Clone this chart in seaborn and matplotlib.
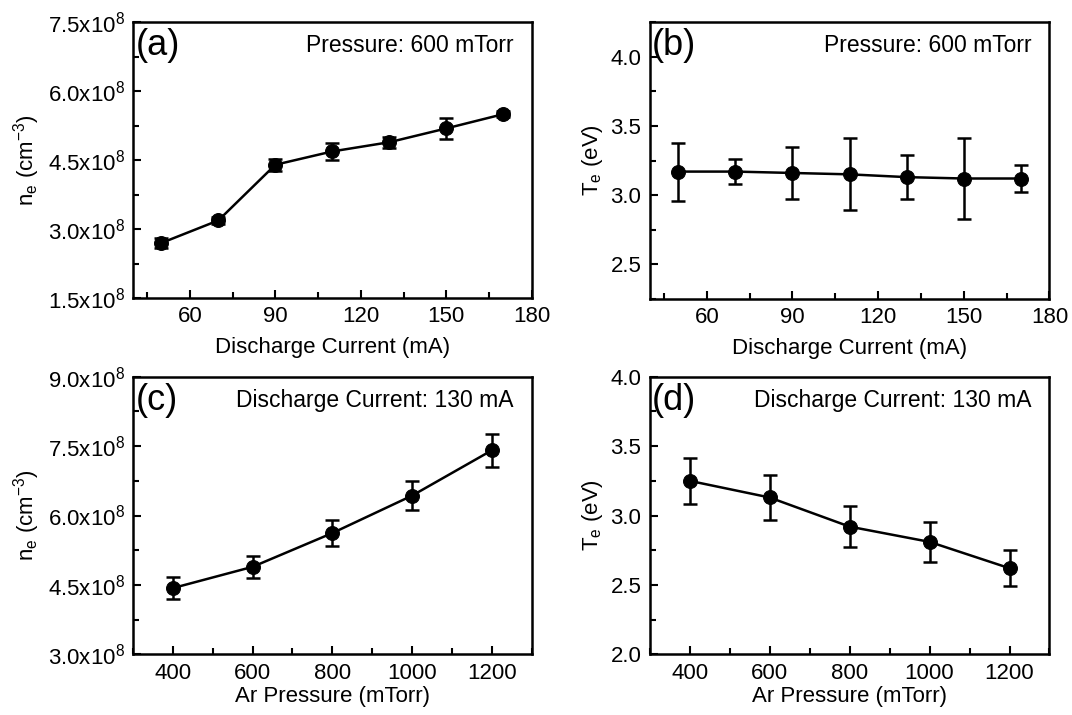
import numpy as np
import pandas as pd
import seaborn as sns
import matplotlib.pyplot as plt
from matplotlib.ticker import MultipleLocator, FuncFormatter

# current scan at 600 mTorr
current = [50, 70, 90, 110, 130, 150, 170]
ne_current = [2.70e8, 3.19e8, 4.40e8, 4.69e8, 4.89e8, 5.19e8, 5.50e8]
ne_current_err = [0.10e8, 0.07e8, 0.13e8, 0.19e8, 0.12e8, 0.23e8, 0.06e8]
te_current = [3.17, 3.17, 3.16, 3.15, 3.13, 3.12, 3.12]
te_current_err = [0.21, 0.09, 0.19, 0.26, 0.16, 0.29, 0.095]

# pressure scan at 130 mA
pressure = [400, 600, 800, 1000, 1200]
ne_pressure = [4.43e8, 4.89e8, 5.62e8, 6.43e8, 7.41e8]
ne_pressure_err = [0.23e8, 0.24e8, 0.28e8, 0.32e8, 0.36e8]
te_pressure = [3.25, 3.13, 2.92, 2.81, 2.62]
te_pressure_err = [0.165, 0.16, 0.15, 0.145, 0.13]

sns.set_style("ticks")
plt.rcParams['font.family'] = ['Liberation Sans', 'DejaVu Sans']
plt.rcParams['mathtext.fontset'] = 'custom'
plt.rcParams['mathtext.rm'] = 'Liberation Sans'
plt.rcParams['mathtext.it'] = 'Liberation Sans:italic'
for k in ['text.color', 'axes.labelcolor', 'xtick.color', 'ytick.color', 'axes.edgecolor']:
    plt.rcParams[k] = 'black'

fig = plt.figure(figsize=(10.72, 7.15), dpi=100)
pos = {'a': [0.124, 0.583, 0.372, 0.386],
       'b': [0.606, 0.582, 0.373, 0.387],
       'c': [0.124, 0.085, 0.372, 0.388],
       'd': [0.606, 0.085, 0.373, 0.388]}

def sci(v, p):
    return '%.1fx10$\\mathregular{^{8}}$' % (v / 1e8)

ne_label = 'n$\\mathregular{_e}$ (cm$\\mathregular{^{-3}}$)'
te_label = 'T$\\mathregular{_e}$ (eV)'

panels = [
    ('a', current, ne_current, ne_current_err, 'Discharge Current (mA)', ne_label,
     'Pressure: 600 mTorr', (40, 180), 30, (1.5e8, 7.5e8), 1.5e8),
    ('b', current, te_current, te_current_err, 'Discharge Current (mA)', te_label,
     'Pressure: 600 mTorr', (40, 180), 30, (2.25, 4.25), 0.5),
    ('c', pressure, ne_pressure, ne_pressure_err, 'Ar Pressure (mTorr)', ne_label,
     'Discharge Current: 130 mA', (300, 1300), 200, (3e8, 9e8), 1.5e8),
    ('d', pressure, te_pressure, te_pressure_err, 'Ar Pressure (mTorr)', te_label,
     'Discharge Current: 130 mA', (300, 1300), 200, (2.0, 4.0), 0.5),
]

for tag, x, y, err, xlab, ylab, note, xlim, xstep, ylim, ystep in panels:
    ax = fig.add_axes(pos[tag])
    df = pd.DataFrame({'x': x, 'y': y})
    ax.errorbar(x, y, yerr=err, fmt='none', ecolor='black', elinewidth=1.8,
                capsize=5, capthick=1.8, zorder=2)
    sns.lineplot(data=df, x='x', y='y', ax=ax, color='black', linewidth=1.8,
                 marker='o', markersize=10, markeredgecolor='black', zorder=3)
    ax.set_xlim(xlim)
    ax.set_ylim(ylim)
    ax.xaxis.set_major_locator(MultipleLocator(xstep))
    ax.xaxis.set_minor_locator(MultipleLocator(xstep / 2))
    ax.yaxis.set_major_locator(MultipleLocator(ystep))
    ax.yaxis.set_minor_locator(MultipleLocator(ystep / 2))
    if tag in ('a', 'c'):
        ax.yaxis.set_major_formatter(FuncFormatter(sci))
    else:
        ax.yaxis.set_major_formatter(FuncFormatter(lambda v, p: '%.1f' % v))
    ax.tick_params(which='both', direction='in', labelsize=16, width=1.5)
    ax.tick_params(which='major', length=6, pad=6)
    ax.tick_params(which='minor', length=4)
    for s in ax.spines.values():
        s.set_linewidth(1.8)
    top_row = tag in ('a', 'b')
    ax.set_xlabel(xlab, fontsize=16, labelpad=7 if top_row else 2)
    ax.set_ylabel(ylab, fontsize=16, labelpad=4)
    ax.text(0.006, 0.915, '(%s)' % tag, transform=ax.transAxes, fontsize=26,
            ha='left', va='center')
    ax.text(0.955, 0.915, note, transform=ax.transAxes, fontsize=16.5,
            ha='right', va='center')

fig.savefig('out.png', dpi=100)
